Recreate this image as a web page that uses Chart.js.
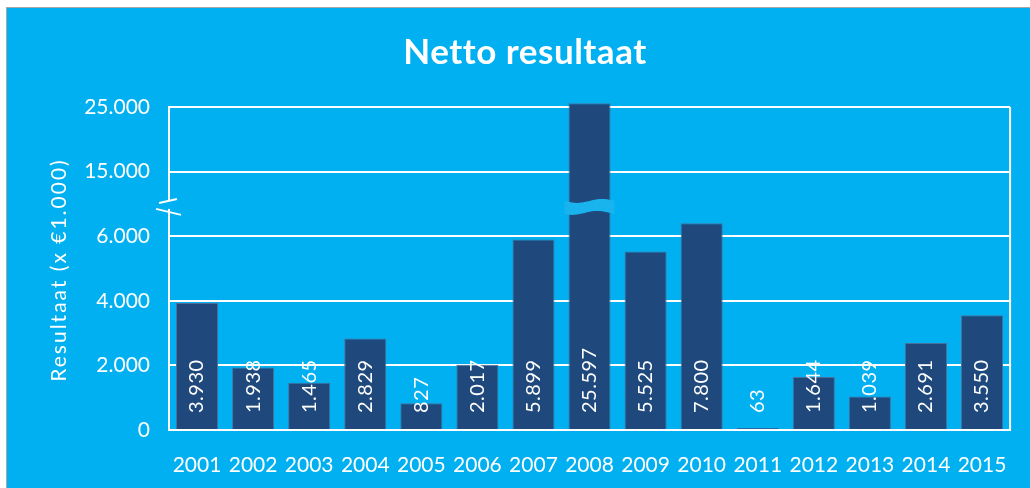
<!DOCTYPE html>
<html>
<head>
<meta charset="utf-8">
<script src="https://cdn.jsdelivr.net/npm/chart.js@4/dist/chart.umd.min.js"></script>
<style>
  html, body { margin: 0; padding: 0; background: #ffffff; width: 1030px; height: 488px; overflow: hidden; }
  #wrap { position: absolute; left: 6px; top: 7px; width: 1024px; height: 481px;
          border-left: 1px solid #a6a6a6; border-top: 1px solid #a6a6a6; background: #00B0F0; }
  canvas { display: block; }
</style>
</head>
<body>
<div id="wrap"><canvas id="c" width="1023" height="480"></canvas></div>
<script>
// ---- data ----
const titleText = 'Netto resultaat';
const yAxisTitle = 'Resultaat (x €1.000)';
const years = ['2001','2002','2003','2004','2005','2006','2007','2008','2009','2010','2011','2012','2013','2014','2015'];
const nettoResultaat = [3930, 1938, 1465, 2829, 827, 2017, 5899, 25597, 5525, 7800, 63, 1644, 1039, 2691, 3550];
// broken axis: tick values shown at equally spaced positions
const yTickValues = [0, 2000, 4000, 6000, 15000, 25000];
const yTickLabels = ['0', '2.000', '4.000', '6.000', '15.000', '25.000'];

// piecewise mapping of a value to an axis position (index of tick segments)
function toAxis(v) {
  for (let i = 0; i < yTickValues.length - 1; i++) {
    const a = yTickValues[i], b = yTickValues[i + 1];
    if (v <= b || i === yTickValues.length - 2) return i + (v - a) / (b - a);
  }
}
function fmt(v) { return v.toLocaleString('de-DE'); }

const FONT = 'Lato, "Open Sans", sans-serif';
const BG = '#00B0F0';
const BAR = '#1F497D';

const overlay = {
  id: 'overlay',
  afterDraw(chart) {
    const ctx = chart.ctx, ca = chart.chartArea, y = chart.scales.y;
    ctx.save();
    // right border of plot area
    ctx.strokeStyle = '#ffffff'; ctx.lineWidth = 2;
    ctx.beginPath(); ctx.moveTo(ca.right, y.getPixelForValue(y.max)); ctx.lineTo(ca.right, ca.bottom); ctx.stroke();

    // break markers on axis (between 6.000 and 15.000)
    const by = y.getPixelForValue(3.5);
    const ax = ca.left;
    ctx.fillStyle = BG;
    ctx.fillRect(ax - 3, by - 3, 6, 8);
    ctx.strokeStyle = '#ffffff'; ctx.lineWidth = 2;
    ctx.beginPath(); ctx.moveTo(ax - 10, by - 1); ctx.lineTo(ax + 8, by - 5); ctx.stroke();
    ctx.beginPath(); ctx.moveTo(ax - 13, by + 5); ctx.lineTo(ax + 12, by + 11); ctx.stroke();

    // break squiggle across bars that pass the axis break
    const meta = chart.getDatasetMeta(0);
    meta.data.forEach((bar, i) => {
      if (nettoResultaat[i] > yTickValues[4]) {
        const w = bar.width;
        const x0 = bar.x - w / 2 - 4, x1 = bar.x + w / 2 + 4;
        const cy = by + 3;
        ctx.fillStyle = '#19b4ee';
        ctx.beginPath();
        const n = 20;
        for (let k = 0; k <= n; k++) {
          const px = x0 + (x1 - x0) * k / n;
          const py = cy - 6 + 2 * Math.sin(k / n * Math.PI * 2);
          if (k === 0) ctx.moveTo(px, py); else ctx.lineTo(px, py);
        }
        for (let k = n; k >= 0; k--) {
          const px = x0 + (x1 - x0) * k / n;
          const py = cy + 6 + 2 * Math.sin(k / n * Math.PI * 2 + 0.6);
          ctx.lineTo(px, py);
        }
        ctx.closePath(); ctx.fill();
      }
    });

    // data labels, rotated, anchored near the bottom
    ctx.fillStyle = '#ffffff';
    ctx.font = '20px ' + FONT;
    ctx.letterSpacing = '0.5px';
    ctx.textAlign = 'left';
    ctx.textBaseline = 'middle';
    meta.data.forEach((bar, i) => {
      ctx.save();
      ctx.translate(bar.x, ca.bottom - 17);
      ctx.rotate(-Math.PI / 2);
      ctx.fillText(fmt(nettoResultaat[i]), 0, 0);
      ctx.restore();
    });

    // title
    ctx.letterSpacing = '0.5px';
    ctx.font = 'bold 35px ' + FONT;
    ctx.textAlign = 'center';
    ctx.textBaseline = 'middle';
    ctx.fillText(titleText, 518, 45);

    // y axis title
    ctx.save();
    ctx.translate(52, 262);
    ctx.rotate(-Math.PI / 2);
    ctx.letterSpacing = '2px';
    ctx.font = '21px ' + FONT;
    ctx.fillText(yAxisTitle, 0, 0);
    ctx.restore();
    ctx.restore();
  }
};

new Chart(document.getElementById('c'), {
  type: 'bar',
  data: {
    labels: years,
    datasets: [{
      data: nettoResultaat.map(toAxis),
      backgroundColor: BAR,
      borderColor: '#4a6f9a',
      borderWidth: 1,
      categoryPercentage: 1,
      barPercentage: 0.75,
      clip: false
    }]
  },
  options: {
    responsive: false,
    animation: false,
    events: [],
    layout: { padding: { top: 0, right: 18, bottom: 0, left: 0 } },
    plugins: { legend: { display: false }, title: { display: false }, tooltip: { enabled: false } },
    scales: {
      x: {
        grid: { display: false, drawTicks: false },
        border: { display: true, color: '#ffffff', width: 2 },
        ticks: { color: '#ffffff', font: { family: FONT, size: 21 }, padding: 23, maxRotation: 0, autoSkip: false },
        afterFit(s) { s.height = 58; }
      },
      y: {
        min: 0, max: yTickValues.length - 1,
        grid: { color: '#ffffff', lineWidth: 2, drawTicks: false },
        border: { display: true, color: '#ffffff', width: 2 },
        ticks: {
          stepSize: 1, padding: 19, color: '#ffffff',
          font: { family: FONT, size: 21 },
          callback: (v) => yTickLabels[v]
        },
        afterFit(s) { s.width = 162; }
      }
    }
  },
  plugins: [overlay, {
    id: 'topPad',
    beforeLayout(chart) { chart.options.layout.padding.top = 99; }
  }]
});
</script>
</body>
</html>
